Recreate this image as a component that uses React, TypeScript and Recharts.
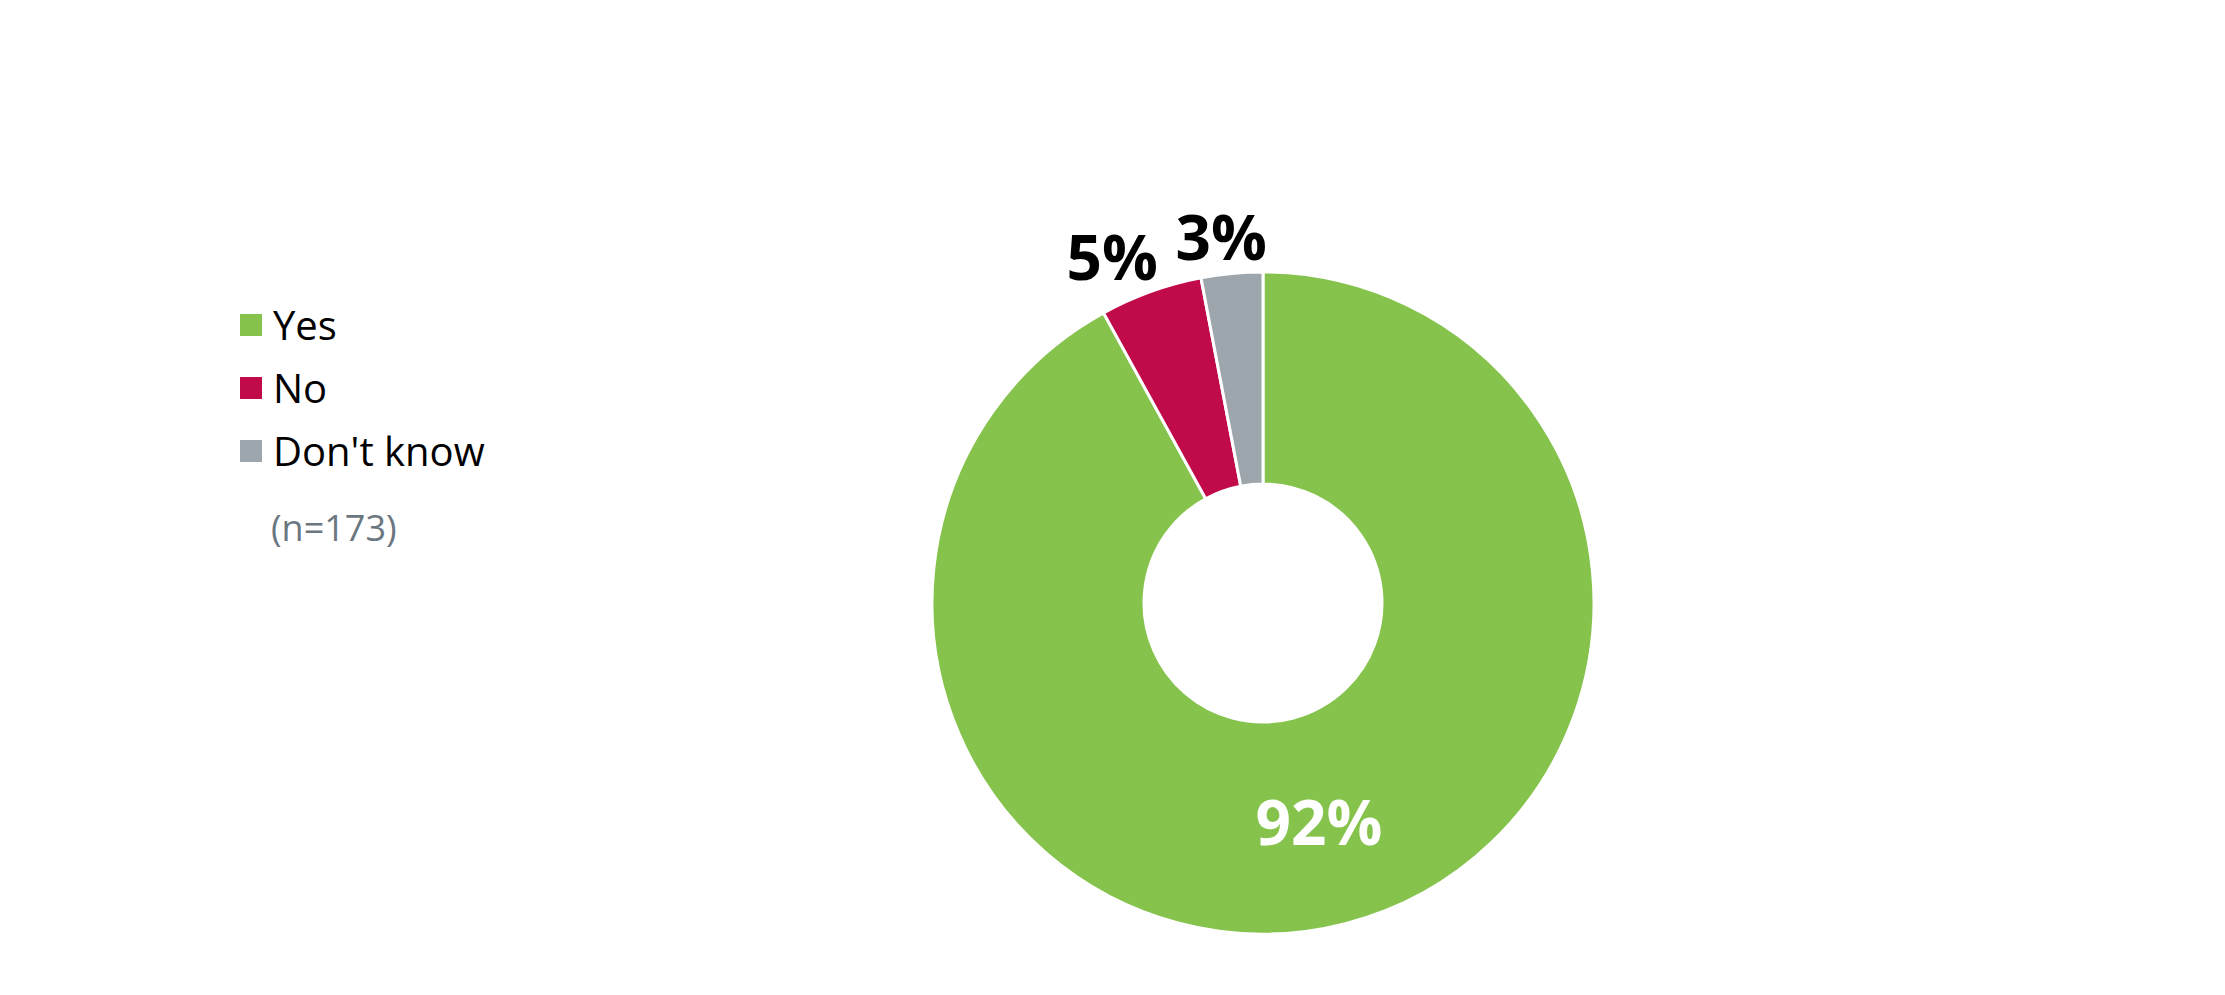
import React from 'react';
import { PieChart, Pie, Cell } from 'recharts';

const answers = ['Yes', 'No', "Don't know"];
const shares = [92, 5, 3];
const colors = ['#85c34c', '#c10a4a', '#9da6ac'];
const sampleNote = '(n=173)';

const data = answers.map((name, i) => ({ name, value: shares[i] }));

const FONT = '"Open Sans", "Noto Sans", sans-serif';
const RAD = Math.PI / 180;

// white label inside the ring for the big slice, black ones outside for the small ones
const renderLabel = (props: any) => {
  const { cx, cy, midAngle, innerRadius, outerRadius, value, index } = props;
  const inside = index === 0;
  const rx = inside ? (innerRadius + outerRadius) / 2 : outerRadius + 114;
  const ry = inside ? (innerRadius + outerRadius) / 2 : outerRadius + 38;
  const x = cx + rx * Math.cos(-midAngle * RAD);
  const y = cy + ry * Math.sin(-midAngle * RAD);
  return (
    <text
      x={x}
      y={y}
      fill={inside ? '#ffffff' : '#000000'}
      textAnchor="middle"
      dominantBaseline="central"
      fontFamily={FONT}
      fontWeight={700}
      fontSize={62}
    >
      {value}%
    </text>
  );
};

export default function App() {
  return (
    <div style={{ position: 'absolute', left: 0, top: 0, width: 2225, height: 995, background: '#fff' }}>
      <PieChart width={2225} height={995}>
        <Pie
          data={data}
          dataKey="value"
          nameKey="name"
          cx={1258}
          cy={598}
          innerRadius={119}
          outerRadius={331}
          startAngle={90}
          endAngle={-270}
          stroke="#ffffff"
          strokeWidth={3}
          label={renderLabel}
          labelLine={false}
          isAnimationActive={false}
        >
          {data.map((d, i) => (
            <Cell key={d.name} fill={colors[i]} />
          ))}
        </Pie>
      </PieChart>
      <div style={{ position: 'absolute', left: 240, top: 293, fontFamily: FONT }}>
        {data.map((d, i) => (
          <div key={d.name} style={{ display: 'flex', alignItems: 'center', height: 63 }}>
            <span style={{ width: 22, height: 22, background: colors[i], display: 'inline-block', marginRight: 11 }} />
            <span style={{ fontSize: 40, lineHeight: '63px', color: '#000' }}>{d.name}</span>
          </div>
        ))}
        <div style={{ fontSize: 36, color: '#6b7780', marginTop: 21, marginLeft: 31 }}>{sampleNote}</div>
      </div>
    </div>
  );
}
